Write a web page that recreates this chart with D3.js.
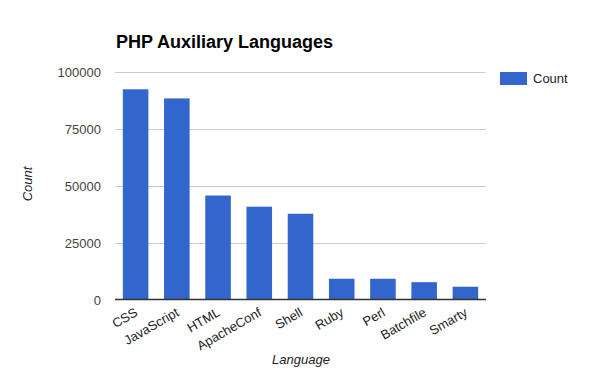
<!DOCTYPE html>
<html>
<head>
<meta charset="utf-8">
<script src="https://d3js.org/d3.v7.min.js"></script>
<style>
  body { margin: 0; background: #fff; font-family: Arial, 'Liberation Sans', sans-serif; }
  svg { display: block; }
</style>
</head>
<body>
<svg id="chart" width="600" height="371"></svg>
<script>
// values
var languages = ["CSS", "JavaScript", "HTML", "ApacheConf", "Shell", "Ruby", "Perl", "Batchfile", "Smarty"];
var counts = [92200, 88200, 45600, 40700, 37600, 9100, 9100, 7600, 5600];
var yTicks = [0, 25000, 50000, 75000, 100000];

var svg = d3.select("#chart");
var plotLeft = 115, plotRight = 486, plotTop = 71.5, plotBottom = 299.5;

var x = d3.scaleBand().domain(languages).range([plotLeft, plotRight]).paddingInner(0.38).paddingOuter(0.19);
var y = d3.scaleLinear().domain([0, 100000]).range([plotBottom, plotTop]);

// gridlines
svg.selectAll("line.grid").data(yTicks.slice(1))
  .enter().append("line")
  .attr("class", "grid")
  .attr("x1", plotLeft).attr("x2", plotRight)
  .attr("y1", function (d) { return Math.round(y(d)) + 0.5; })
  .attr("y2", function (d) { return Math.round(y(d)) + 0.5; })
  .attr("stroke", "#cccccc").attr("stroke-width", 1);

// y tick labels
svg.selectAll("text.ytick").data(yTicks)
  .enter().append("text")
  .attr("class", "ytick")
  .attr("x", 101)
  .attr("y", function (d) { return y(d) + 5; })
  .attr("text-anchor", "end")
  .attr("font-size", 13)
  .attr("fill", "#444")
  .text(function (d) { return d; });

// bars
svg.selectAll("rect.bar").data(counts)
  .enter().append("rect")
  .attr("class", "bar")
  .attr("x", function (d, i) { return x(languages[i]); })
  .attr("width", x.bandwidth())
  .attr("y", function (d) { return y(d); })
  .attr("height", function (d) { return y(0) - y(d); })
  .attr("fill", "#3366cc");

// baseline
svg.append("line")
  .attr("x1", plotLeft).attr("x2", plotRight)
  .attr("y1", plotBottom).attr("y2", plotBottom)
  .attr("stroke", "#333").attr("stroke-width", 1.5);

// x tick labels, rotated
svg.selectAll("text.xtick").data(languages)
  .enter().append("text")
  .attr("class", "xtick")
  .attr("transform", function (d) {
    var cx = x(d) + x.bandwidth() / 2 + 3;
    return "translate(" + cx + ",315) rotate(-30)";
  })
  .attr("text-anchor", "end")
  .attr("font-size", 13)
  .attr("fill", "#222")
  .text(function (d) { return d; });

// title
svg.append("text")
  .attr("x", 116).attr("y", 48)
  .attr("font-size", 18).attr("font-weight", "bold")
  .attr("fill", "#000")
  .text("PHP Auxiliary Languages");

// axis titles
svg.append("text")
  .attr("transform", "translate(32,184) rotate(-90)")
  .attr("text-anchor", "middle")
  .attr("font-size", 13).attr("font-style", "italic")
  .attr("fill", "#222")
  .text("Count");

svg.append("text")
  .attr("x", 301).attr("y", 364)
  .attr("text-anchor", "middle")
  .attr("font-size", 13).attr("font-style", "italic")
  .attr("fill", "#222")
  .text("Language");

// legend
svg.append("rect")
  .attr("x", 500).attr("y", 72).attr("width", 27).attr("height", 13)
  .attr("fill", "#3366cc");
svg.append("text")
  .attr("x", 533).attr("y", 83)
  .attr("font-size", 13).attr("fill", "#222")
  .text("Count");
</script>
</body>
</html>
